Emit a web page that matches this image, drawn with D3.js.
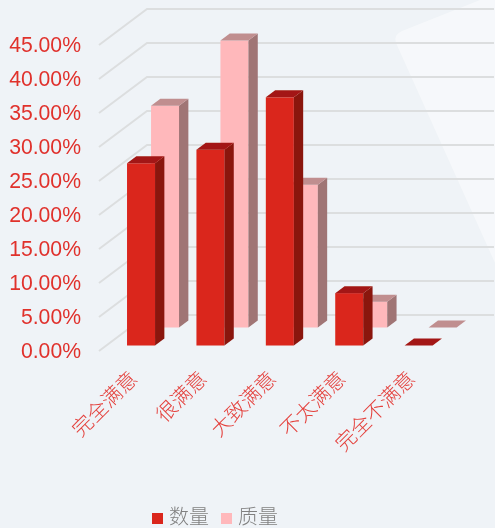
<!DOCTYPE html>
<html>
<head>
<meta charset="utf-8">
<script src="https://cdn.jsdelivr.net/npm/d3@7/dist/d3.min.js"></script>
<style>
  html, body { margin: 0; padding: 0; background: #eff3f7; }
  svg { display: block; }
</style>
</head>
<body>
<div id="chart"></div>
<script>
// Data
const categories = ["完全满意", "很满意", "大致满意", "不太满意", "完全不满意"];
const seriesNames = ["数量", "质量"];
const quantity = [26.8, 28.8, 36.5, 7.7, 0];
const quality = [32.6, 42.2, 21.0, 3.8, 0];
const yTicks = [0, 5, 10, 15, 20, 25, 30, 35, 40, 45];

const width = 495, height = 528;
const depthX = 48, depthY = 36;   // 3D depth of the plot box

const svg = d3.select("#chart")
    .append("svg")
    .attr("width", width)
    .attr("height", height);

// Soft blur, the source picture is slightly upscaled
svg.append("defs").append("filter")
    .attr("id", "soft")
    .append("feGaussianBlur")
    .attr("stdDeviation", 0.5);

const root = svg.append("g").attr("filter", "url(#soft)");

// Light decoration at the right
root.append("path")
    .attr("d", "M495,0 L480,0 L402,31 Q393,35 396,43 L495,263 Z")
    .attr("fill", "#ffffff")
    .attr("opacity", 0.45);

const x = d3.scaleBand().domain(categories).range([99, 446]);
const y = d3.scaleLinear().domain([0, 45]).range([351, 45]);
const z = d3.scaleBand().domain(seriesNames).range([0, depthY])
    .paddingInner(11 / 18).paddingOuter(5.5 / 18);
const barWidth = 28;

// Grid: side wall and back wall
root.append("g").selectAll("path")
    .data(yTicks)
    .enter()
    .append("path")
    .attr("d", d => `M99,${y(d)} L${99 + depthX},${y(d) - depthY} L494,${y(d) - depthY}`)
    .attr("fill", "none")
    .attr("stroke", "#dcdedf")
    .attr("stroke-width", 2);

// Y axis
const yAxis = root.append("g")
    .attr("transform", "translate(81,-0.5)")
    .call(d3.axisLeft(y).tickValues(yTicks).tickSize(0).tickPadding(0).tickFormat(d => d.toFixed(2) + "%"));
yAxis.select(".domain").remove();
yAxis.selectAll("text")
    .attr("fill", "#e0302c")
    .style("font-family", "'Liberation Sans', Arial, sans-serif")
    .style("font-size", "21.2px");

// One 3D bar
function drawBars(name, values, colors) {
    const off = z(name);
    const dy = z.bandwidth();
    const dx = dy * depthX / depthY;
    const ox = off * depthX / depthY;
    const g = root.append("g");
    categories.forEach((c, i) => {
        const left = x(c) + (x.bandwidth() - barWidth) / 2 + ox;
        const base = y(0) - off;
        const top = y(values[i]) - off;
        if (values[i] > 0) {
            g.append("rect")
                .attr("x", left).attr("y", top)
                .attr("width", barWidth).attr("height", base - top)
                .attr("fill", colors.front);
            g.append("path")
                .attr("d", `M${left + barWidth},${top} l${dx},${-dy} V${base - dy} l${-dx},${dy} Z`)
                .attr("fill", colors.side);
        }
        g.append("path")
            .attr("d", `M${left},${top} l${dx},${-dy} h${barWidth} l${-dx},${dy} Z`)
            .attr("fill", colors.top);
    });
}

drawBars("质量", quality, { front: "#ffb8bb", side: "#a07475", top: "#c08e8f" });
drawBars("数量", quantity, { front: "#da251d", side: "#8a1510", top: "#a31812" });

// X labels
const xAxis = root.append("g")
    .attr("transform", "translate(0,371)")
    .call(d3.axisBottom(x).tickSize(0).tickPadding(0));
xAxis.select(".domain").remove();
xAxis.selectAll("text")
    .attr("text-anchor", "end")
    .attr("dy", "0.35em")
    .attr("transform", "translate(0,4) rotate(-45)")
    .attr("fill", "#e4403c")
    .style("font-family", "'Noto Sans CJK SC', sans-serif")
    .style("font-weight", 300)
    .style("font-size", "20.5px");

// Legend
const legendX = d3.scaleOrdinal().domain(seriesNames).range([152, 221]);
const legendColor = d3.scaleOrdinal().domain(seriesNames).range(["#da251d", "#ffb8bb"]);
const legend = root.append("g").selectAll("g")
    .data(seriesNames)
    .enter()
    .append("g")
    .attr("transform", d => `translate(${legendX(d)},513)`);
legend.append("rect")
    .attr("width", 11)
    .attr("height", 11)
    .attr("fill", d => legendColor(d));
legend.append("text")
    .attr("x", 17)
    .attr("y", 10.7)
    .attr("fill", "#808080")
    .style("font-family", "'Liberation Sans', 'Noto Sans CJK SC', sans-serif")
    .style("font-weight", 300)
    .style("font-size", "20px")
    .text(d => d);
</script>
</body>
</html>
